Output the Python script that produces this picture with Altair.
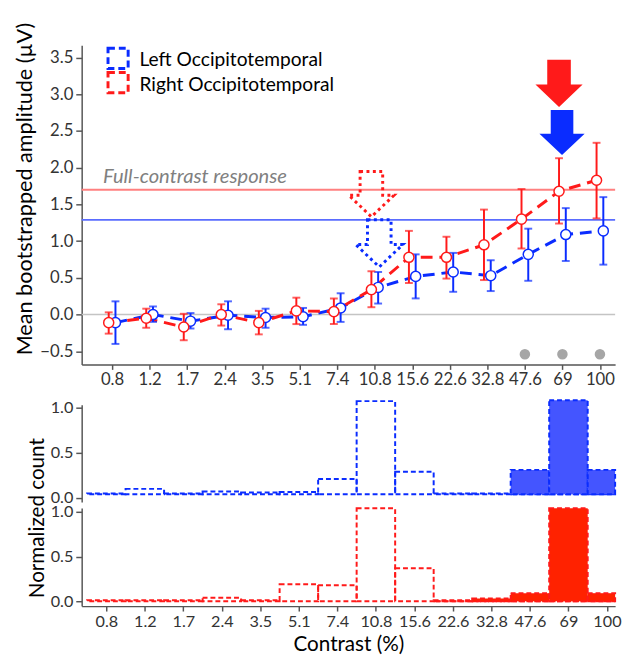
import altair as alt
import pandas as pd

FONT = "Lato"
BLUE = "#0a2cff"
RED = "#ff1a1a"

cats = ['0.8', '1.2', '1.7', '2.4', '3.5', '5.1', '7.4', '10.8', '15.6', '22.6', '32.8', '47.6', '69', '100']
left_mean = [-0.11, 0.00, -0.09, -0.01, -0.04, -0.03, 0.09, 0.37, 0.52, 0.58, 0.53, 0.82, 1.09, 1.14]
left_hi = [0.18, 0.11, 0.02, 0.18, 0.08, 0.09, 0.29, 0.58, 0.82, 0.84, 0.74, 1.17, 1.45, 1.60]
left_lo = [-0.40, -0.10, -0.19, -0.20, -0.18, -0.14, -0.10, 0.15, 0.22, 0.31, 0.32, 0.46, 0.73, 0.68]
right_mean = [-0.11, -0.05, -0.17, 0.00, -0.11, 0.05, 0.04, 0.34, 0.78, 0.78, 0.95, 1.30, 1.68, 1.83]
right_hi = [0.03, 0.08, 0.01, 0.14, 0.05, 0.23, 0.22, 0.59, 1.14, 1.06, 1.43, 1.71, 2.13, 2.34]
right_lo = [-0.26, -0.18, -0.35, -0.15, -0.27, -0.13, -0.13, 0.10, 0.43, 0.49, 0.47, 0.90, 1.24, 1.31]
full_contrast = {"Left": 1.29, "Right": 1.70}
sig_cats = ['47.6', '69', '100']
sig_y = -0.54

left_early = [0.05, 0.10, 0.05, 0.07, 0.06, 0.065, 0.21, 1.07, 0.29, 0.05, 0.05, 0.04, 0.04, 0.04]
left_late_cats = ['47.6', '69', '100']
left_late = [0.31, 1.08, 0.31]
left_base = 0.04
right_early = [0.01, 0.01, 0.01, 0.04, 0.01, 0.19, 0.18, 1.04, 0.37, 0.01, 0.0, 0.0, 0.0, 0.0]
right_late_cats = ['22.6', '32.8', '47.6', '69', '100']
right_late = [0.0, 0.03, 0.09, 1.04, 0.09]
right_base = 0.0

# arrows: (category position, y value, colour, box size, dotted)
arrow_x = [6.91, 7.12, 11.91, 11.99]
arrow_y = [1.64, 0.97, 3.15, 2.48]
arrow_col = [RED, BLUE, RED, BLUE]
arrow_box = [46, 48, 48, 46]
arrow_dotted = [True, True, False, False]

legend_names = ["Left Occipitotemporal", "Right Occipitotemporal"]
legend_cols = [BLUE, RED]
legend_y = [3.49, 3.16]
legend_text_y = [3.47, 3.12]

idx = list(range(len(cats)))
OFF = 0.09
ARROW = "M-0.5,-1 L0.5,-1 L0.5,0.05 L1,0.05 L0,1 L-1,0.05 L-0.5,0.05 Z"
label_expr = "[" + ",".join("'%s'" % c for c in cats) + "][datum.value]"
YTITLE = "Mean bootstrapped amplitude (µV)"

rows = []
for i in idx:
    rows.append(dict(series="Left", xi=i + OFF, yv=left_mean[i], lo=left_lo[i], hi=left_hi[i]))
    rows.append(dict(series="Right", xi=i - OFF, yv=right_mean[i], lo=right_lo[i], hi=right_hi[i]))
df = pd.DataFrame(rows)

W = 543
X_TOP_SC = alt.Scale(domain=[-0.81, -0.81 + W / 38.2], nice=False, zero=False)
X_TOP = alt.X("xi:Q", scale=X_TOP_SC,
              axis=alt.Axis(values=idx, labelExpr=label_expr, title=None, grid=False,
                            labelPadding=2, tickSize=5), title=None)
Y_SC = alt.Scale(domain=[-0.68, 3.67], nice=False, zero=False)
Y_AX = alt.Axis(values=[-0.5, 0, 0.5, 1, 1.5, 2, 2.5, 3, 3.5], format=".1f",
                title=YTITLE, grid=False, titlePadding=3, titleY=146, labelPadding=3, titleFontSize=22)
def Y(f):
    return alt.Y(f, scale=Y_SC, axis=Y_AX, title=YTITLE)

SER = alt.Scale(domain=["Left", "Right"], range=[BLUE, RED])
col = alt.Color("series:N", scale=SER, legend=None)

ref_df = pd.DataFrame({"series": ["Left", "Right"], "yv": [full_contrast["Left"], full_contrast["Right"]],
                       "c": ["#5a6cff", "#ff8080"]})
ref = alt.Chart(ref_df).mark_rule(strokeWidth=2).encode(
    y=Y("yv:Q"), color=alt.Color("c:N", scale=None))
zero = alt.Chart(pd.DataFrame({"yv": [0.0]})).mark_rule(color="#c4c4c4", strokeWidth=1.5).encode(y=Y("yv:Q"))
txt = alt.Chart(pd.DataFrame({"xi": [-0.24], "yv": [1.87], "t": ["Full-contrast response"]})).mark_text(
    align="left", baseline="middle", font=FONT, fontSize=20.5, fontStyle="italic", color="#808080"
).encode(x=X_TOP, y=Y("yv:Q"), text="t:N")

lines = alt.Chart(df).mark_line(strokeDash=[12, 7], strokeWidth=3).encode(
    x=X_TOP, y=Y("yv:Q"), color=col, detail="series:N", order="xi:Q")
err = alt.Chart(df).mark_rule(strokeWidth=2).encode(x=X_TOP, y=Y("lo:Q"), y2="hi:Q", color=col)
cap_lo = alt.Chart(df).mark_tick(orient="horizontal", size=8, thickness=2).encode(x=X_TOP, y=Y("lo:Q"), color=col)
cap_hi = alt.Chart(df).mark_tick(orient="horizontal", size=8, thickness=2).encode(x=X_TOP, y=Y("hi:Q"), color=col)
pts = alt.Chart(df).mark_point(filled=False, fill="white", fillOpacity=1, size=105, strokeWidth=1.5).encode(
    x=X_TOP, y=Y("yv:Q"), stroke=alt.Stroke("series:N", scale=SER, legend=None))

sig = alt.Chart(pd.DataFrame({"xi": [cats.index(c) for c in sig_cats], "yv": [sig_y] * len(sig_cats)})).mark_circle(
    size=115, color="#a6a6a6", opacity=1).encode(x=X_TOP, y=Y("yv:Q"))

adf = pd.DataFrame({"xi": arrow_x, "yv": arrow_y, "c": arrow_col,
                    "s": [b * b for b in arrow_box], "dotted": arrow_dotted})
arr_dot = alt.Chart(adf[adf.dotted]).mark_point(shape=ARROW, filled=False, strokeWidth=3, strokeDash=[3, 3.5],
                                                opacity=1).encode(
    x=X_TOP, y=Y("yv:Q"), color=alt.Color("c:N", scale=None), size=alt.Size("s:Q", scale=None))
arr_fill = alt.Chart(adf[~adf.dotted]).mark_point(shape=ARROW, filled=True, opacity=1, strokeWidth=0).encode(
    x=X_TOP, y=Y("yv:Q"), color=alt.Color("c:N", scale=None), size=alt.Size("s:Q", scale=None))

lsym = pd.DataFrame({"xi": [0.16, 0.16], "yv": legend_y, "c": legend_cols})
ltxt = pd.DataFrame({"xi": [0.73, 0.73], "yv": legend_text_y, "t": legend_names})
leg_sym = alt.Chart(lsym).mark_point(shape="square", size=420, filled=False, strokeWidth=3, strokeDash=[7, 4],
                                     opacity=1).encode(x=X_TOP, y=Y("yv:Q"), color=alt.Color("c:N", scale=None))
leg_txt = alt.Chart(ltxt).mark_text(align="left", baseline="middle", font=FONT, fontSize=19.5, color="black").encode(
    x=X_TOP, y=Y("yv:Q"), text="t:N")

top = alt.layer(ref, zero, txt, lines, err, cap_lo, cap_hi, pts, arr_dot, arr_fill, sig, leg_sym, leg_txt).properties(
    width=W, height=325)

# ---------------- histograms ----------------
X_BOT_SC = alt.Scale(domain=[-0.64, -0.64 + W / 39.2], nice=False, zero=False, clamp=True)

def hist_panel(early, late_cats, late, base, col_line, col_fill, ydom, height, show_x, ytitle):
    e = pd.DataFrame({"x0": [i - 0.5 for i in idx], "x1": [i + 0.5 for i in idx], "top": early, "base": [base] * len(idx)})
    li = [cats.index(c) for c in late_cats]
    l = pd.DataFrame({"x0": [i - 0.5 for i in li], "x1": [i + 0.5 for i in li], "top": late, "base": [base] * len(li)})
    if show_x:
        xax = alt.Axis(values=idx, labelExpr=label_expr, title="Contrast (%)", grid=False, titlePadding=4,
                       labelPadding=3, tickSize=5, labelFontSize=16.5)
    else:
        xax = None
    if ytitle:
        yax = alt.Axis(values=[0, 0.5, 1.0], format=".1f", grid=False, title=ytitle, titleY=10,
                       titlePadding=3, labelPadding=3, labelFontSize=16.5)
    else:
        yax = alt.Axis(values=[0, 0.5, 1.0], format=".1f", grid=False, title=None, labelPadding=3,
                       labelFontSize=16.5)
    X = alt.X("x0:Q", scale=X_BOT_SC, axis=xax, title="Contrast (%)" if show_x else None)
    Yb = alt.Y("top:Q", scale=alt.Scale(domain=ydom, nice=False, zero=False), axis=yax, title=ytitle)
    dashed = alt.Chart(e).mark_rect(fillOpacity=0, stroke=col_line, strokeWidth=2, strokeDash=[5, 3]).encode(
        x=X, x2="x1:Q", y=Yb, y2="base:Q")
    filled = alt.Chart(l).mark_rect(fill=col_fill, fillOpacity=1, stroke=col_line, strokeWidth=2,
                                    strokeDash=[5, 3]).encode(x=X, x2="x1:Q", y=Yb, y2="base:Q")
    return alt.layer(dashed, filled).properties(width=W, height=height)

blue = hist_panel(left_early, left_late_cats, left_late, left_base, "#0a2cff", "#4455ff",
                  [-0.045, 1.03], 99, False, None)
red = hist_panel(right_early, right_late_cats, right_late, right_base, "#ff1a1a", "#ff2200",
                 [-0.055, 1.045], 100, True, "Normalized count")

bottom = alt.vconcat(blue, red, spacing=6, bounds="flush").resolve_scale(x="independent", y="independent")

chart = alt.vconcat(top, bottom, spacing=41, bounds="flush").resolve_scale(
    x="independent", y="independent"
).properties(
    padding={"left": 6, "top": 8, "right": 0, "bottom": 0}
).configure_axis(
    labelFont=FONT, labelFontSize=17, labelColor="#333333", titleFont=FONT, titleFontSize=21,
    titleFontWeight="normal", titleColor="#000000", domainColor="#555555", tickColor="#555555",
    domainWidth=1.5, tickWidth=1.5, tickSize=6
).configure_view(stroke=None)

chart.save("out.html", embed_options={"renderer": "svg", "actions": False})
